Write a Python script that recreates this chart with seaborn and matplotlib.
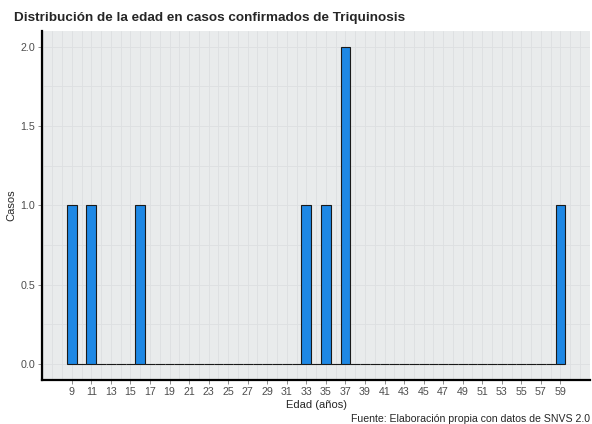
import numpy as np
import pandas as pd
import matplotlib.pyplot as plt
import seaborn as sns
from matplotlib.ticker import MultipleLocator

# edades de los casos confirmados
edades = [9, 11, 16, 33, 35, 37, 37, 59]
x_ticks = list(range(9, 60, 2))
y_ticks = [0.0, 0.5, 1.0, 1.5, 2.0]

titulo = "Distribución de la edad en casos confirmados de Triquinosis"
fuente = "Fuente: Elaboración propia con datos de SNVS 2.0"

df = pd.DataFrame({"edad": edades})

sns.set_style("white")
plt.rcParams["font.family"] = ["Liberation Sans", "DejaVu Sans"]

fig = plt.figure(figsize=(5.92, 4.24), dpi=100)
ax = fig.add_axes([0.071, 0.104, 0.926, 0.823])
ax.set_facecolor("#E9EBEC")

sns.histplot(data=df, x="edad", discrete=True, color="#1E88E5", alpha=1,
             edgecolor="#1a1a1a", linewidth=0.8, ax=ax, zorder=3)

lo, hi = min(edades) - 0.5, max(edades) + 0.5
pad = (hi - lo) * 0.05
ax.set_xlim(lo - pad, hi + pad)
ax.set_ylim(-0.1, 2.1)

ax.set_xticks(x_ticks)
ax.set_yticks(y_ticks)
ax.set_yticklabels([f"{v:.1f}" for v in y_ticks])
ax.xaxis.set_minor_locator(MultipleLocator(1))
ax.yaxis.set_minor_locator(MultipleLocator(0.25))
ax.grid(which="both", color="#DCDFE1", linewidth=0.6, zorder=0)
ax.set_axisbelow(True)

ax.tick_params(axis="both", which="major", labelsize=7.7, labelcolor="#4D4D4D",
               color="#7a7a7a", length=3, width=0.6, pad=2, bottom=True, left=True)
ax.tick_params(which="minor", length=0)

for s in ["top", "right"]:
    ax.spines[s].set_visible(False)
for s in ["left", "bottom"]:
    ax.spines[s].set_color("black")
    ax.spines[s].set_linewidth(1.6)

ax.set_xlabel("Edad (años)", fontsize=8, labelpad=2)
ax.set_ylabel("Casos", fontsize=8, labelpad=3)

fig.text(14 / 592, 1 - 18 / 424, titulo, fontsize=9.7, fontweight="bold",
         ha="left", va="center")
fig.text(590 / 592, 1 - 419 / 424, fuente, fontsize=7.6, ha="right", va="center")

fig.savefig("out.png", dpi=100)
